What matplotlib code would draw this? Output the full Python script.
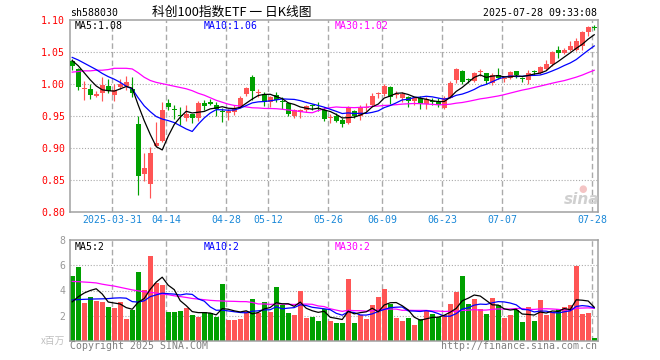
import numpy as np
import pandas as pd
import matplotlib
matplotlib.use("Agg")
import matplotlib.pyplot as plt

# ---------------- data ----------------
opens = [1.037, 1.024, 0.993, 0.992, 0.982, 0.986, 0.997, 0.984, 0.996, 0.998,
         0.993, 0.938, 0.860, 0.845, 0.903, 0.912, 0.971, 0.961, 0.951, 0.948,
         0.953, 0.947, 0.971, 0.973, 0.968, 0.958, 0.955, 0.957, 0.965, 0.985,
         1.0115, 0.986, 0.985, 0.973, 0.983, 0.9735, 0.971, 0.951, 0.956, 0.960,
         0.9658, 0.963, 0.960, 0.947, 0.950, 0.945, 0.940, 0.959, 0.950, 0.963,
         0.968, 0.9845, 0.985, 0.995, 0.984, 0.978, 0.980, 0.9735, 0.979, 0.970,
         0.974, 0.973, 0.963, 0.979, 1.006, 1.021, 1.007, 1.005, 1.020, 1.018,
         1.002, 1.015, 1.008, 1.010, 1.020, 1.009, 1.007, 1.0205, 1.018, 1.0245,
         1.031, 1.054, 1.049, 1.053, 1.054, 1.060, 1.0818, 1.0885]
highs = [1.040, 1.026, 1.005, 1.000, 0.990, 1.011, 1.008, 1.000, 1.009, 1.013,
         1.012, 0.950, 0.893, 0.902, 0.941, 0.973, 0.977, 0.967, 0.965, 0.968,
         0.954, 0.974, 0.975, 0.977, 0.972, 0.963, 0.962, 0.968, 0.982, 0.996,
         1.015, 0.993, 0.988, 0.981, 0.988, 0.980, 0.973, 0.961, 0.962, 0.968,
         0.969, 0.973, 0.964, 0.953, 0.955, 0.947, 0.9656, 0.960, 0.968, 0.971,
         0.986, 0.988, 1.001, 0.997, 0.989, 0.988, 0.981, 0.980, 0.981, 0.980,
         0.979, 0.979, 0.981, 1.005, 1.0255, 1.022, 1.010, 1.020, 1.024, 1.018,
         1.018, 1.0255, 1.010, 1.021, 1.0214, 1.012, 1.023, 1.023, 1.028, 1.0385,
         1.0516, 1.0594, 1.056, 1.068, 1.072, 1.083, 1.0906, 1.093]
lows = [1.022, 0.991, 0.976, 0.977, 0.980, 0.974, 0.986, 0.974, 0.992, 0.991,
        0.980, 0.827, 0.849, 0.823, 0.902, 0.910, 0.960, 0.946, 0.937, 0.942,
        0.940, 0.942, 0.960, 0.967, 0.951, 0.941, 0.944, 0.952, 0.9625, 0.981,
        0.976, 0.980, 0.966, 0.964, 0.972, 0.962, 0.951, 0.947, 0.947, 0.957,
        0.960, 0.958, 0.943, 0.940, 0.941, 0.934, 0.938, 0.947, 0.945, 0.958,
        0.964, 0.979, 0.981, 0.969, 0.978, 0.973, 0.964, 0.968, 0.962, 0.962,
        0.967, 0.964, 0.962, 0.978, 1.002, 1.0005, 1.002, 1.004, 1.0125, 1.0005,
        0.9995, 1.009, 1.004, 1.009, 1.010, 1.003, 1.0005, 1.015, 1.016, 1.023,
        1.028, 1.041, 1.047, 1.0516, 1.0516, 1.054, 1.075, 1.0844]
closes = [1.029, 0.996, 0.994, 0.983, 0.985, 0.999, 0.989, 0.991, 1.000, 1.004,
          0.986, 0.857, 0.869, 0.893, 0.908, 0.960, 0.965, 0.960, 0.950, 0.954,
          0.947, 0.971, 0.966, 0.970, 0.961, 0.957, 0.959, 0.9635, 0.979, 0.994,
          0.989, 0.987, 0.972, 0.980, 0.976, 0.973, 0.954, 0.960, 0.960, 0.966,
          0.9655, 0.962, 0.946, 0.948, 0.943, 0.9385, 0.964, 0.950, 0.964, 0.964,
          0.982, 0.9855, 0.997, 0.980, 0.985, 0.985, 0.9734, 0.978, 0.970, 0.977,
          0.973, 0.967, 0.9786, 1.002, 1.024, 1.004, 1.006, 1.018, 1.021, 1.005,
          1.014, 1.010, 1.0085, 1.020, 1.014, 1.0085, 1.018, 1.020, 1.027, 1.032,
          1.0505, 1.049, 1.054, 1.0604, 1.067, 1.082, 1.0896, 1.088]
volumes = [5.17, 5.86, 3.01, 3.48, 3.17, 3.09, 2.69, 2.61, 3.09, 1.74,
           2.45, 5.49, 4.04, 6.75, 4.59, 4.41, 2.30, 2.30, 2.37, 2.61,
           2.06, 1.90, 2.30, 2.19, 1.90, 4.54, 1.66, 1.66, 1.74, 2.37,
           3.32, 2.19, 3.09, 2.30, 4.27, 2.88, 2.22, 2.06, 3.98, 1.82,
           1.90, 1.58, 2.50, 1.58, 1.42, 1.42, 4.91, 1.42, 2.06, 1.74,
           2.85, 3.48, 4.12, 2.96, 1.82, 1.58, 1.82, 1.27, 1.74, 2.37,
           2.14, 1.90, 2.06, 2.93, 3.88, 5.15, 2.93, 3.32, 2.53, 2.14,
           3.40, 2.85, 1.82, 2.06, 2.45, 1.50, 2.69, 1.58, 3.25, 2.06,
           2.30, 2.53, 2.69, 2.85, 5.94, 2.14, 2.22, 0.24]

# moving-average values at the start of the window (need history before the chart)
ma5_head = [1.037, 1.029, 1.018, 1.007]
ma10_head = [1.042, 1.038, 1.033, 1.028, 1.023, 1.017, 1.012, 1.008, 1.003]
ma30_head = [1.019, 1.020, 1.021, 1.021, 1.022, 1.022, 1.023, 1.025, 1.025, 1.025,
             1.024, 1.018, 1.011, 1.006, 1.003, 1.001, 0.999, 0.997, 0.995, 0.993,
             0.990, 0.986, 0.983, 0.979, 0.975, 0.972, 0.969, 0.967, 0.966]
vma5_head = [3.10, 3.50, 3.80, 4.00]
vma10_head = [3.25, 3.28, 3.30, 3.32, 3.33, 3.34, 3.36, 3.40, 3.42]
vma30_head = [4.72, 4.70, 4.67, 4.64, 4.60, 4.50, 4.42, 4.35, 4.25, 4.15,
              4.05, 3.97, 3.90, 3.85, 3.80, 3.72, 3.67, 3.58, 3.52, 3.45,
              3.37, 3.32, 3.27, 3.22, 3.19, 3.17, 3.15, 3.14, 3.12]

tick_idx = [7, 16, 26, 33, 43, 52, 62, 72, 87]
tick_labels = ['2025-03-31', '04-14', '04-28', '05-12', '05-26',
               '06-09', '06-23', '07-07', '07-28']
price_ticks = [0.80, 0.85, 0.90, 0.95, 1.00, 1.05, 1.10]
vol_ticks = [2, 4, 6, 8]

code = 'sh588030'
title = '科创100指数ETF 一 日K线图'
stamp = '2025-07-28 09:33:08'

# ---------------- helpers ----------------
def moving(values, n, head):
    s = pd.Series(values).rolling(n).mean().to_numpy()
    s[:len(head)] = head
    return s

W, H = 660, 360
RED, GREEN = '#ff5555', '#00a000'
GRID = '#aaaaaa'
MONO = ['DejaVu Sans Mono']
CJK = ['Noto Sans CJK SC', 'DejaVu Sans']

o = np.array(opens); h = np.array(highs); l = np.array(lows); c = np.array(closes)
v = np.array(volumes)
x = np.arange(len(c))
up = c >= o
cols = np.where(up, RED, GREEN)

ma5 = moving(c, 5, ma5_head)
ma10 = moving(c, 10, ma10_head)
ma30 = moving(c, 30, ma30_head)
vma5 = moving(v, 5, vma5_head)
vma10 = moving(v, 10, vma10_head)
vma30 = moving(v, 30, vma30_head)

fig = plt.figure(figsize=(W / 100, H / 100), dpi=100)
fig.patch.set_facecolor('white')

def rect(l_, t_, r_, b_):
    return [l_ / W, 1 - b_ / H, (r_ - l_) / W, (b_ - t_) / H]

ax = fig.add_axes(rect(70, 20.3, 598, 212.3))
axv = fig.add_axes(rect(70, 240, 598, 341))

xlim = (-0.37, len(c) - 0.37)
for a in (ax, axv):
    a.set_xlim(*xlim)
    for s in a.spines.values():
        s.set_color('#a0a0a0')
        s.set_linewidth(1.1)
    a.tick_params(length=0)
    for t in tick_idx:
        a.axvline(t - 0.3, color=GRID, lw=1.0, ls=(0, (4, 2.2)), zorder=0)

# ---- price panel ----
ax.set_ylim(0.80, 1.10)
for p in price_ticks[1:-1]:
    ax.axhline(p, color=GRID, lw=0.8, ls=(0, (1, 1.6)), zorder=0)
body_bottom = np.minimum(o, c)
body_h = np.maximum(np.abs(c - o), 0.0015)
ax.vlines(x, l, h, colors=cols, lw=0.85, zorder=2)
ax.bar(x, body_h, bottom=body_bottom, width=0.78, color=cols, linewidth=0, zorder=3)
ax.plot(x, ma30, color='#ff00ff', lw=0.9, zorder=4)
ax.plot(x, ma10, color='#0000ff', lw=0.9, zorder=5)
ax.plot(x, ma5, color='black', lw=0.9, zorder=6)

ax.set_yticks(price_ticks)
ax.set_yticklabels(['%.2f' % p for p in price_ticks], color='red',
                   family=MONO, fontsize=7.1)
ax.tick_params(axis='y', pad=3.5)
ax.set_xticks([t - 0.3 for t in tick_idx])
ax.set_xticklabels(tick_labels, color='#1a88d8', family=MONO, fontsize=7.1)
ax.tick_params(axis='x', pad=2.0)

# ---- volume panel ----
axv.set_ylim(0, 8)
for p in vol_ticks[:-1]:
    axv.axhline(p, color=GRID, lw=0.8, ls=(0, (1, 1.6)), zorder=0)
axv.bar(x, v, width=0.83, color=cols, linewidth=0, zorder=2)
axv.plot(x, vma30, color='#ff00ff', lw=0.9, zorder=3)
axv.plot(x, vma10, color='#0000ff', lw=0.9, zorder=4)
axv.plot(x, vma5, color='black', lw=0.9, zorder=5)
axv.set_yticks(vol_ticks)
axv.set_yticklabels([str(t) for t in vol_ticks], color='#999999',
                    family=MONO, fontsize=7.1)
axv.tick_params(axis='y', pad=3.5)
axv.set_xticks([])

# ---- texts ----
def ftext(px, py, s, **kw):
    fig.text(px / W, 1 - py / H, s, **kw)

ftext(70, 13.5, code, family=MONO, fontsize=7.1, va='center', ha='left')
ftext(232, 12.5, title, family=CJK, fontsize=9.2, va='center', ha='center')
ftext(597, 13.5, stamp, family=MONO, fontsize=7.1, va='center', ha='right')

ftext(75, 26, 'MA5:%.2f' % ma5[-1], family=MONO, fontsize=7.1, va='center', color='black')
ftext(204, 26, 'MA10:%.2f' % ma10[-1], family=MONO, fontsize=7.1, va='center', color='#0000ff')
ftext(335, 26, 'MA30:%.2f' % ma30[-1], family=MONO, fontsize=7.1, va='center', color='#ff00ff')

ftext(75, 246.5, 'MA5:%d' % int(vma5[-1]), family=MONO, fontsize=7.1, va='center', color='black')
ftext(204, 246.5, 'MA10:%d' % int(vma10[-1]), family=MONO, fontsize=7.1, va='center', color='#0000ff')
ftext(335, 246.5, 'MA30:%d' % int(vma30[-1]), family=MONO, fontsize=7.1, va='center', color='#ff00ff')

ftext(65, 341, 'x百万', family=CJK, fontsize=7, va='center', ha='right', color='#c0c0c0')
ftext(70, 346, 'Copyright 2025 SINA.COM', family=MONO, fontsize=7.1, va='center', color='#808080')
ftext(597, 346, 'http://finance.sina.com.cn', family=MONO, fontsize=7.1, va='center',
      ha='right', color='#808080')

# sina watermark
ftext(582, 200, 'sina', fontsize=11, fontweight='bold', style='italic',
      va='center', ha='center', color='#d0d0d0')
ftext(583, 189, '●', fontsize=7, va='center', ha='center', color='#f4c4c4')

fig.savefig('out.png', dpi=100, facecolor='white')
